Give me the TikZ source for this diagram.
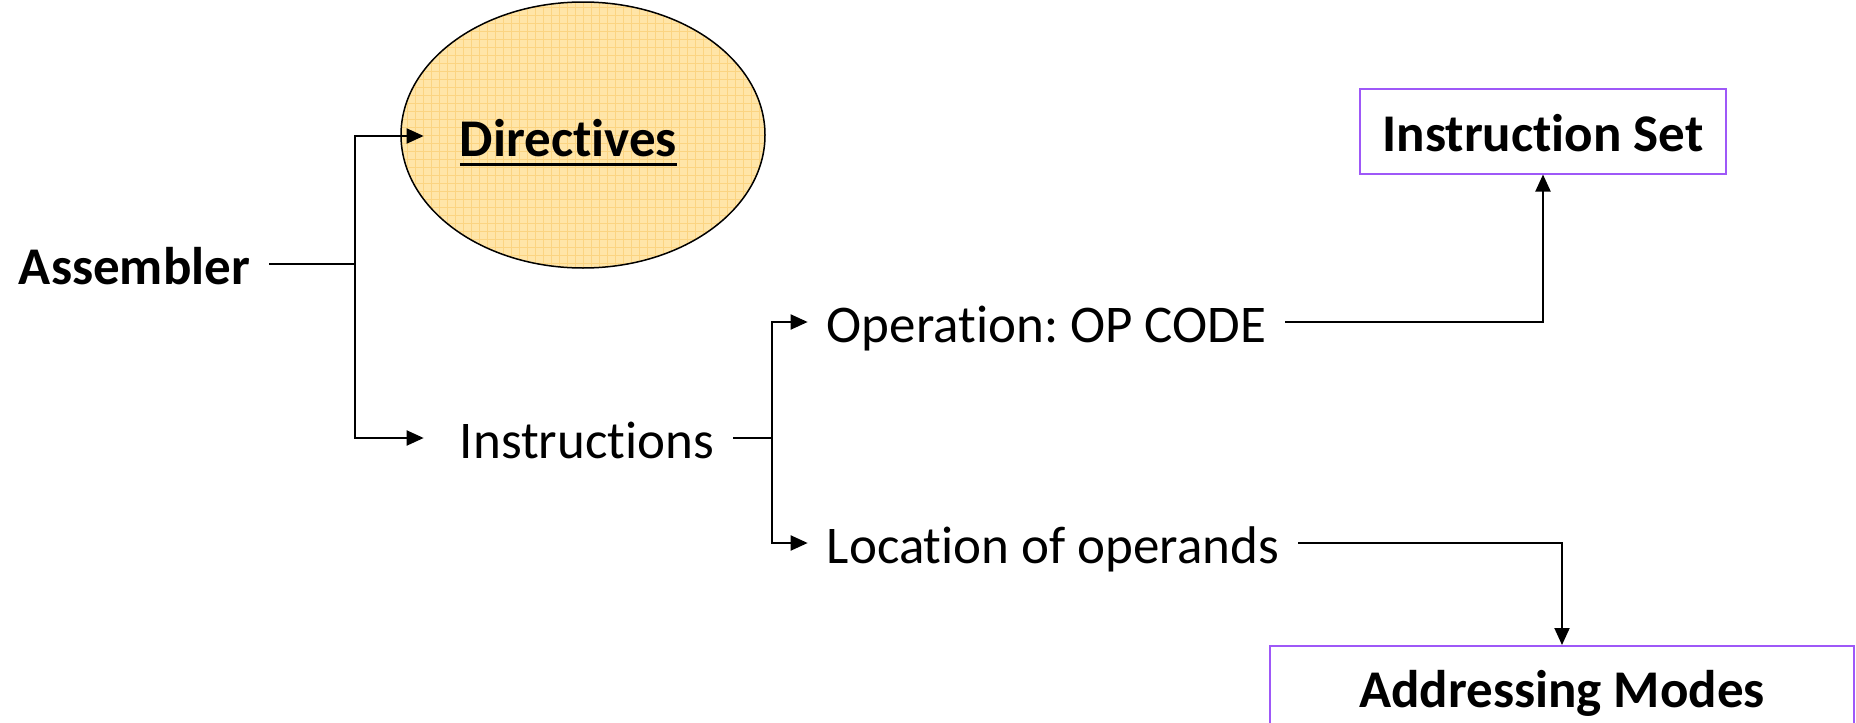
\documentclass[tikz,border=0pt]{standalone}
\usepackage{fontspec}
\setmainfont{Carlito}[Ligatures=NoCommon]
\usetikzlibrary{arrows.meta,shapes.geometric}
\definecolor{boxpurple}{RGB}{158,88,248}
\definecolor{ovalfill}{RGB}{255,229,168}
\definecolor{ovalgrid}{RGB}{251,212,130}
% bold word with a thick rule under it
\newcommand\thickul[1]{\setbox0\hbox{#1}\rlap{\raisebox{-9.5pt}{\rule{\wd0}{3pt}}}\box0}
\frenchspacing
\begin{document}
\begin{tikzpicture}[x=1pt,y=-1pt,
  conn/.style={line width=2pt},
  arr/.style={conn,-{Triangle[length=17pt,width=15pt]}},
  lbl/.style={inner xsep=19pt,inner ysep=0pt,text height=40pt,text depth=0pt,
    font=\fontsize{53}{60}\selectfont},
  boldlbl/.style={lbl,font=\fontsize{53}{60}\selectfont\bfseries},
  boxed/.style={boldlbl,draw=boxpurple,line width=2pt,inner xsep=0pt},
  oval/.style={ellipse,draw,line width=1.5pt,fill=ovalfill,inner sep=0pt,
    minimum width=364pt,minimum height=266pt,
    path picture={\draw[ovalgrid,line width=0.7pt,step=8pt]
      (path picture bounding box.south west) grid (path picture bounding box.north east);}}]
\clip (0,0) rectangle (1856,723);
\useasboundingbox (0,0) rectangle (1856,723);

% nodes
\node[oval] (dir) at (583,135) {};
\node[boldlbl,inner xsep=36pt] (dirtext) at (568.5,136) {\thickul{Directives}};
\node[boldlbl] (asm) at (134.5,264) {Assembler};
\node[lbl] (ins) at (587,438) {Instructions};
\node[lbl] (op) at (1046.5,322) {Operation: OP CODE};
\node[lbl] (loc) at (1053,543) {Location of operands};
\node[boxed,minimum width=366pt,minimum height=85pt] (iset) at (1543,131) {Instruction Set};
\node[boxed,minimum width=584pt,minimum height=82pt] (amodes) at (1562,687) {Addressing Modes};

% branch points
\coordinate (j1) at (355,264);
\coordinate (j2) at (772,438);

% connectors
\draw[conn] (asm.east) -- (j1);
\draw[arr] (j1) |- (dirtext.west);
\draw[arr,shorten >=17pt] (j1) |- (ins.west);
\draw[conn] (ins.east) -- (j2);
\draw[arr] (j2) |- (op.west);
\draw[arr] (j2) |- (loc.west);
\draw[arr] (op.east) -| (iset.south);
\draw[arr] (loc.east) -| (amodes.north);
\end{tikzpicture}
\end{document}
